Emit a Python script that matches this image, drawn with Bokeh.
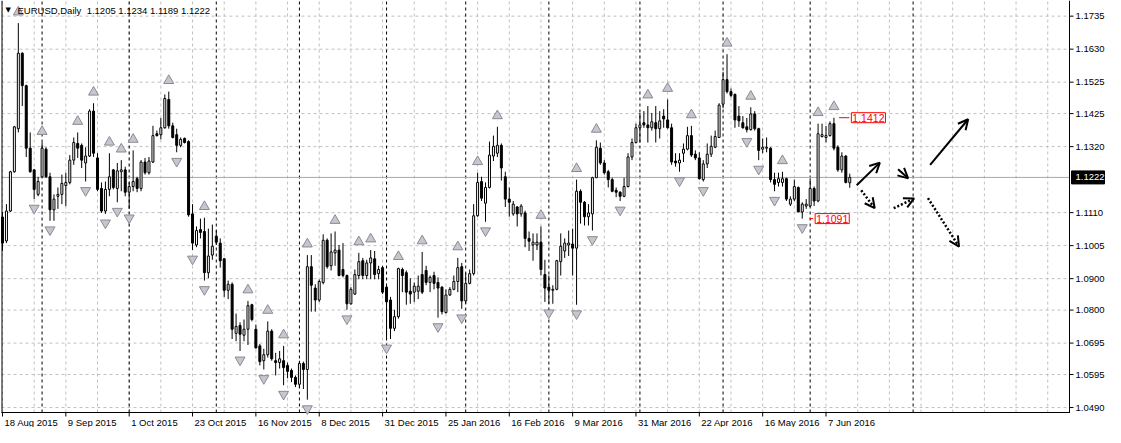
import numpy as np
from bokeh.plotting import figure
from bokeh.models import Range1d, Label, Arrow, OpenHead, ColumnDataSource
from bokeh.core.properties import value
from bokeh.embed import file_html
from bokeh.resources import INLINE

# ---------------- data (EURUSD daily) ----------------
opens = [1.1096,1.1020,1.1115,1.1240,1.1377,1.1617,1.1514,1.1315,1.1246,1.1168,
 1.1224,1.1312,1.1224,1.1119,1.1162,1.1168,1.1196,1.1206,1.1277,1.1330,
 1.1324,1.1268,1.1290,1.1433,1.1284,1.1187,1.1115,1.1184,1.1246,1.1187,
 1.1240,1.1246,1.1175,1.1193,1.1218,1.1187,1.1271,1.1237,1.1271,1.1361,
 1.1358,1.1380,1.1470,1.1386,1.1358,1.1324,1.1346,1.1336,1.1106,1.1007,
 1.1056,1.1050,1.0919,1.0975,1.1035,1.1013,1.0963,1.0863,1.0882,1.0726,
 1.0751,1.0720,1.0739,1.0817,1.0739,1.0686,1.0639,1.0658,1.0733,1.0639,
 1.0633,1.0639,1.0624,1.0608,1.0586,1.0564,1.0630,1.0611,1.0938,1.0870,
 1.0832,1.0888,1.1022,1.0941,1.0982,1.0991,1.0929,1.0910,1.0820,1.0851,
 1.0910,1.0957,1.0910,1.0950,1.0963,1.0916,1.0935,1.0873,1.0832,1.0742,
 1.0779,1.0929,1.0919,1.0860,1.0857,1.0860,1.0913,1.0926,1.0888,1.0910,
 1.0888,1.0873,1.0792,1.0848,1.0866,1.0891,1.0938,1.0829,1.0885,1.0916,
 1.1100,1.1209,1.1140,1.1190,1.1290,1.1299,1.1324,1.1224,1.1153,1.1106,
 1.1128,1.1106,1.1109,1.1028,1.1007,1.1007,1.1016,1.0913,1.0873,1.0863,
 1.0866,1.0954,1.0988,1.1007,1.1010,1.0997,1.1178,1.1143,1.1097,1.1106,
 1.1221,1.1315,1.1268,1.1240,1.1215,1.1181,1.1175,1.1162,1.1193,1.1287,
 1.1333,1.1380,1.1396,1.1389,1.1380,1.1396,1.1377,1.1417,1.1405,1.1380,
 1.1274,1.1268,1.1299,1.1312,1.1355,1.1296,1.1284,1.1215,1.1265,1.1296,
 1.1318,1.1349,1.1455,1.1533,1.1495,1.1486,1.1417,1.1396,1.1383,1.1374,
 1.1424,1.1377,1.1312,1.1315,1.1315,1.1215,1.1206,1.1206,1.1218,1.1137,
 1.1153,1.1190,1.1112,1.1131,1.1131,1.1187,1.1147,1.1352,1.1349,1.1355,
 1.1393,1.1318,1.1246,1.1290,1.1205]
highs = [1.1112,1.1137,1.1243,1.1386,1.1713,1.1620,1.1517,1.1365,1.1249,1.1224,
 1.1333,1.1318,1.1237,1.1168,1.1190,1.1231,1.1237,1.1293,1.1349,1.1365,
 1.1330,1.1318,1.1439,1.1458,1.1299,1.1206,1.1209,1.1299,1.1249,1.1268,
 1.1277,1.1256,1.1206,1.1308,1.1224,1.1277,1.1284,1.1287,1.1386,1.1371,
 1.1411,1.1486,1.1495,1.1396,1.1377,1.1349,1.1349,1.1340,1.1137,1.1066,
 1.1091,1.1094,1.1059,1.1072,1.1053,1.1028,1.0966,1.0894,1.0888,1.0789,
 1.0761,1.0770,1.0829,1.0820,1.0754,1.0692,1.0677,1.0764,1.0739,1.0664,
 1.0670,1.0686,1.0633,1.0614,1.0592,1.0639,1.0636,1.0975,1.0975,1.0882,
 1.0897,1.1041,1.1028,1.1044,1.1050,1.1007,1.1013,1.0913,1.0873,1.0929,
 1.0982,1.0966,1.0960,1.0991,1.0988,1.0941,1.0941,1.0879,1.0842,1.0801,
 1.0935,1.0935,1.0926,1.0901,1.0888,1.0910,1.0985,1.0941,1.0910,1.0922,
 1.0904,1.0876,1.0866,1.0873,1.0910,1.0966,1.0950,1.0919,1.0929,1.1137,
 1.1237,1.1224,1.1206,1.1336,1.1355,1.1383,1.1330,1.1240,1.1190,1.1147,
 1.1131,1.1137,1.1116,1.1050,1.1044,1.1044,1.1066,1.0960,1.0910,1.0879,
 1.0960,1.1044,1.1028,1.1053,1.1059,1.1215,1.1184,1.1147,1.1137,1.1224,
 1.1340,1.1333,1.1277,1.1246,1.1221,1.1190,1.1178,1.1221,1.1299,1.1346,
 1.1393,1.1427,1.1433,1.1449,1.1427,1.1449,1.1433,1.1439,1.1470,1.1393,
 1.1299,1.1299,1.1330,1.1383,1.1386,1.1308,1.1302,1.1277,1.1330,1.1355,
 1.1371,1.1458,1.1558,1.1614,1.1505,1.1489,1.1449,1.1417,1.1411,1.1445,
 1.1433,1.1380,1.1346,1.1349,1.1318,1.1237,1.1237,1.1240,1.1221,1.1162,
 1.1215,1.1193,1.1143,1.1153,1.1218,1.1193,1.1393,1.1393,1.1386,1.1400,
 1.1412,1.1324,1.1302,1.1293,1.1234]
lows = [1.0988,1.1013,1.1112,1.1237,1.1365,1.1449,1.1287,1.1237,1.1153,1.1162,
 1.1221,1.1221,1.1084,1.1084,1.1122,1.1137,1.1131,1.1200,1.1262,1.1284,
 1.1252,1.1209,1.1287,1.1287,1.1178,1.1109,1.1106,1.1162,1.1184,1.1143,
 1.1178,1.1162,1.1122,1.1178,1.1175,1.1178,1.1231,1.1231,1.1268,1.1352,
 1.1343,1.1377,1.1377,1.1346,1.1302,1.1318,1.1330,1.1097,1.0991,1.1000,
 1.1028,1.0894,1.0901,1.0960,1.1007,1.0935,1.0842,1.0835,1.0708,1.0701,
 1.0670,1.0701,1.0689,1.0764,1.0677,1.0624,1.0611,1.0649,1.0639,1.0592,
 1.0614,1.0561,1.0583,1.0571,1.0555,1.0552,1.0549,1.0515,1.0795,1.0795,
 1.0826,1.0882,1.0932,1.0926,1.0941,1.0907,1.0904,1.0801,1.0817,1.0848,
 1.0898,1.0898,1.0898,1.0898,1.0898,1.0898,1.0851,1.0708,1.0708,1.0733,
 1.0773,1.0857,1.0817,1.0820,1.0826,1.0835,1.0851,1.0879,1.0857,1.0866,
 1.0776,1.0786,1.0789,1.0845,1.0863,1.0857,1.0804,1.0820,1.0882,1.0910,
 1.1097,1.1147,1.1081,1.1187,1.1274,1.1287,1.1212,1.1128,1.1097,1.1100,
 1.1066,1.1097,1.1000,1.0988,1.0957,1.0991,1.0910,1.0826,1.0820,1.0820,
 1.0863,1.0910,1.0966,1.0972,1.0910,1.0817,1.1075,1.1069,1.1069,1.1053,
 1.1221,1.1262,1.1231,1.1190,1.1175,1.1159,1.1147,1.1159,1.1190,1.1277,
 1.1330,1.1333,1.1380,1.1333,1.1371,1.1333,1.1346,1.1380,1.1377,1.1262,
 1.1256,1.1240,1.1271,1.1308,1.1287,1.1277,1.1215,1.1209,1.1252,1.1287,
 1.1315,1.1349,1.1442,1.1489,1.1477,1.1380,1.1383,1.1377,1.1365,1.1371,
 1.1371,1.1277,1.1299,1.1302,1.1206,1.1178,1.1193,1.1193,1.1147,1.1131,
 1.1147,1.1112,1.1091,1.1122,1.1128,1.1131,1.1143,1.1349,1.1333,1.1352,
 1.1308,1.1240,1.1237,1.1203,1.1189]
closes = [1.1013,1.1115,1.1240,1.1383,1.1617,1.1514,1.1315,1.1240,1.1184,1.1209,
 1.1315,1.1224,1.1119,1.1153,1.1168,1.1203,1.1206,1.1277,1.1333,1.1315,
 1.1277,1.1290,1.1433,1.1299,1.1184,1.1115,1.1184,1.1224,1.1190,1.1243,
 1.1246,1.1175,1.1193,1.1209,1.1187,1.1271,1.1237,1.1274,1.1355,1.1355,
 1.1380,1.1473,1.1386,1.1349,1.1324,1.1343,1.1333,1.1103,1.1013,1.1053,
 1.1047,1.0919,1.0972,1.1003,1.1016,1.0957,1.0863,1.0882,1.0739,1.0748,
 1.0723,1.0739,1.0814,1.0770,1.0680,1.0636,1.0658,1.0733,1.0645,1.0633,
 1.0645,1.0617,1.0605,1.0586,1.0564,1.0630,1.0611,1.0938,1.0879,1.0832,
 1.0891,1.1022,1.0938,1.0985,1.0991,1.0910,1.0910,1.0820,1.0866,1.0913,
 1.0954,1.0910,1.0950,1.0966,1.0913,1.0929,1.0857,1.0826,1.0742,1.0779,
 1.0932,1.0910,1.0857,1.0851,1.0876,1.0876,1.0857,1.0888,1.0904,1.0885,
 1.0870,1.0795,1.0848,1.0866,1.0891,1.0935,1.0829,1.0885,1.0916,1.1100,
 1.1206,1.1156,1.1190,1.1293,1.1321,1.1324,1.1252,1.1153,1.1143,1.1137,
 1.1106,1.1131,1.1028,1.1019,1.1016,1.1016,1.0929,1.0870,1.0863,1.0866,
 1.0957,1.1003,1.1013,1.1013,1.0997,1.1178,1.1143,1.1097,1.1109,1.1221,
 1.1318,1.1268,1.1237,1.1215,1.1178,1.1175,1.1162,1.1193,1.1287,1.1333,
 1.1380,1.1389,1.1389,1.1380,1.1399,1.1377,1.1402,1.1408,1.1380,1.1271,
 1.1268,1.1277,1.1312,1.1355,1.1293,1.1284,1.1218,1.1265,1.1296,1.1321,
 1.1352,1.1452,1.1533,1.1495,1.1483,1.1405,1.1402,1.1380,1.1374,1.1424,
 1.1377,1.1308,1.1318,1.1318,1.1215,1.1200,1.1218,1.1218,1.1153,1.1153,
 1.1193,1.1112,1.1137,1.1137,1.1187,1.1147,1.1361,1.1358,1.1355,1.1393,
 1.1315,1.1246,1.1290,1.1206,1.1222]

symbol_name = "EURUSD,Daily"
date_labels = ["18 Aug 2015", "9 Sep 2015", "1 Oct 2015", "23 Oct 2015", "16 Nov 2015",
               "8 Dec 2015", "31 Dec 2015", "25 Jan 2016", "16 Feb 2016", "9 Mar 2016",
               "31 Mar 2016", "22 Apr 2016", "16 May 2016", "7 Jun 2016"]
date_label_bars = [0, 16, 32, 48, 64, 80, 96, 112, 128, 144, 160, 176, 192, 208]
month_start_bars = [10, 32, 54, 75, 97, 117, 138, 161, 182, 204, 230]
price_ticks = [1.1735, 1.1630, 1.1525, 1.1425, 1.1320, 1.1110, 1.1005,
               1.0900, 1.0800, 1.0695, 1.0595, 1.0490]
price_tick_labels = ["1.1735", "1.1630", "1.1525", "1.1425", "1.1320", "1.1110", "1.1005",
                     "1.0900", "1.0800", "1.0695", "1.0595", "1.0490"]
level_high = 1.1412
level_low = 1.1091
level_high_bar = 210
level_low_bar = 202

# hand-drawn forecast arrows (bar index, price)
arrow_solid = dict(x0=[215.75, 226.2, 234.3], y0=[1.1197, 1.1248, 1.1262],
                   x1=[221.6, 228.75, 243.9], y1=[1.1269, 1.1219, 1.1407])
arrow_dotted = dict(x0=[216.9, 225.1, 233.75], y0=[1.1181, 1.1124, 1.1156],
                    x1=[220.3, 230.25, 241.6], y1=[1.1124, 1.1155, 1.1002])

# ---------------- layout constants ----------------
FIG_W, FIG_H = 1105, 427
CH_X0, CH_W, CH_H = 1, 1068, 412          # chart area inside the canvas (px)
BX0, BX1 = -0.25, 269.5                   # bar coordinate at chart left / right edge
PY0, PY1 = 1.04742, 1.17848               # price at chart bottom / top edge
bpp = (BX1 - BX0) / CH_W                  # bars per pixel
ppp = (PY1 - PY0) / CH_H                  # price per pixel
XS = BX0 - CH_X0 * bpp
FONT = value("Liberation Sans")
FS = value("9.5px")

p = figure(width=FIG_W, height=FIG_H, x_range=Range1d(XS, XS + FIG_W * bpp),
           y_range=Range1d(PY1 - FIG_H * ppp, PY1), output_backend="svg",
           toolbar_location=None, x_axis_location=None, y_axis_location=None,
           min_border=0, background_fill_color="white", border_fill_color="white",
           outline_line_color=None)
p.xgrid.visible = False
p.ygrid.visible = False

# grid
vg = list(range(0, 270, 8))
p.segment(x0=vg, x1=vg, y0=[PY0] * len(vg), y1=[PY1] * len(vg),
          line_color="#c0c0c0", line_dash="3 3", line_width=1)
p.segment(x0=[BX0] * len(price_ticks), x1=[BX1] * len(price_ticks), y0=price_ticks,
          y1=price_ticks, line_color="#c0c0c0", line_dash="3 3", line_width=1)

# month separators
p.segment(x0=month_start_bars, x1=month_start_bars, y0=[PY0] * len(month_start_bars),
          y1=[PY1] * len(month_start_bars), line_color="black", line_dash="3 3", line_width=1)

# current price line
last_price = closes[-1]
p.segment(x0=[BX0], x1=[BX1], y0=[last_price], y1=[last_price], line_color="#a8a8a8",
          line_width=1)

# chart border: left, right (price scale), bottom (time scale)
p.segment(x0=[BX0 + 0.5 * bpp, BX1, BX0], x1=[BX0 + 0.5 * bpp, BX1, BX1 + 0.5 * bpp],
          y0=[PY0, PY0, PY0], y1=[PY1, PY1, PY0], line_color="black", line_width=1)

# tick marks
p.segment(x0=date_label_bars, x1=date_label_bars, y0=[PY0] * len(date_label_bars),
          y1=[PY0 - 4 * ppp] * len(date_label_bars), line_color="black", line_width=1)
p.segment(x0=[BX1] * len(price_ticks), x1=[BX1 + 4 * bpp] * len(price_ticks),
          y0=price_ticks, y1=price_ticks, line_color="black", line_width=1)

# tick labels
p.text(x=date_label_bars, y=[PY0 - 4 * ppp] * len(date_label_bars), text=date_labels,
       x_offset=2, text_font=FONT, text_font_size=FS, text_baseline="top",
       text_align="left", text_color="black")
p.text(x=[BX1 + 6 * bpp] * len(price_ticks), y=price_ticks, text=price_tick_labels,
       text_font=FONT, text_font_size=FS, text_baseline="middle", text_align="left",
       text_color="black")

# candles
o = np.array(opens); h = np.array(highs); l = np.array(lows); c = np.array(closes)
idx = np.arange(len(o))
src = ColumnDataSource(dict(x=idx, h=h, l=l, top=np.maximum(o, c), bottom=np.minimum(o, c),
                            fill=["white" if cc >= oo else "black" for oo, cc in zip(o, c)]))
p.segment(x0="x", y0="l", x1="x", y1="h", source=src, line_color="black", line_width=1)
p.vbar(x="x", width=0.5, top="top", bottom="bottom", fill_color="fill",
       line_color="black", line_width=1, source=src)

# Bill Williams fractals
up_i, dn_i = [], []
for i in range(2, len(h) - 2):
    if h[i] > h[i-1] and h[i] > h[i-2] and h[i] >= h[i+1] and h[i] >= h[i+2]:
        up_i.append(i)
    if l[i] < l[i-1] and l[i] < l[i-2] and l[i] <= l[i+1] and l[i] <= l[i+2]:
        dn_i.append(i)
p.scatter(x=up_i, y=[h[i] + 11 * ppp for i in up_i], marker="triangle", size=10,
          fill_color="#c6c6ce", line_color="#8a8a94", line_width=1)
p.scatter(x=dn_i, y=[l[i] - 9 * ppp for i in dn_i], marker="inverted_triangle", size=10,
          fill_color="#c6c6ce", line_color="#8a8a94", line_width=1)

# high / low level labels
p.segment(x0=[level_high_bar + 1.3, level_low_bar + 1.8], y0=[level_high, level_low],
          x1=[level_high_bar + 3.9, level_low_bar + 2.75], y1=[level_high, level_low],
          line_color="red", line_width=1)
for bx, lv in ((level_high_bar + 3.9, level_high), (level_low_bar + 2.75, level_low)):
    p.add_layout(Label(x=bx, y=lv, x_offset=2, text=f"{lv:.4f}", text_color="#ff0000",
                       text_font="Liberation Sans", text_font_size="10.5px",
                       text_baseline="middle", text_align="left",
                       border_line_color="#ff0000", border_line_width=1,
                       background_fill_color="white", padding=1))

# forecast arrows
p.add_layout(Arrow(end=OpenHead(size=10, line_width=2, line_color="black"),
                   x_start="x0", y_start="y0", x_end="x1", y_end="y1",
                   source=ColumnDataSource(arrow_solid), line_color="black", line_width=2))
p.add_layout(Arrow(end=OpenHead(size=10, line_width=2, line_color="black"),
                   x_start="x0", y_start="y0", x_end="x1", y_end="y1",
                   source=ColumnDataSource(arrow_dotted), line_color="black",
                   line_width=2.5, line_dash="2 2"))

# title
ohlc_text = " ".join(f"{v:.4f}" for v in (opens[-1], highs[-1], lows[-1], closes[-1]))
p.add_layout(Label(x=BX0, y=PY1, x_offset=4, y_offset=-5, text="\u25bc",
                   text_font="DejaVu Sans", text_font_size="7px", text_baseline="top",
                   text_color="black"))
p.add_layout(Label(x=BX0, y=PY1, x_offset=16, y_offset=-4,
                   text=symbol_name + "\u00a0\u00a0" + ohlc_text, text_font="Liberation Sans",
                   text_font_size="9.5px", text_baseline="top", text_color="black"))

# current price tag on the price scale
p.quad(left=[BX1 + 2 * bpp], right=[BX1 + 35 * bpp], bottom=[last_price - 6.5 * ppp],
       top=[last_price + 6.5 * ppp], fill_color="black", line_color="black")
p.text(x=[BX1 + 6 * bpp], y=[last_price], text=[f"{last_price:.4f}"], text_font=FONT,
       text_font_size=FS, text_baseline="middle", text_align="left", text_color="white")

open("out.html", "w").write(file_html(p, INLINE))
